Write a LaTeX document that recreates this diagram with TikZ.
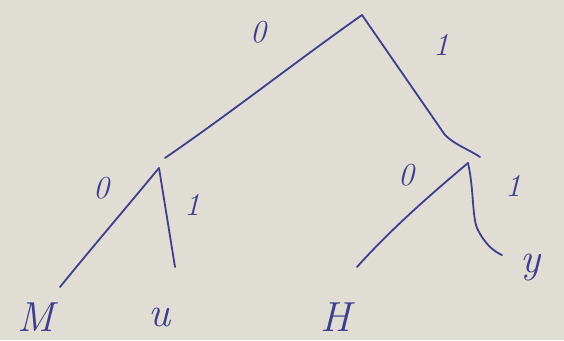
\documentclass[tikz,border=0pt]{standalone}
\usetikzlibrary{calc}
\definecolor{paper}{RGB}{224,221,212}
\definecolor{ink}{RGB}{62,62,140}
\begin{document}
\begin{tikzpicture}[x=1pt,y=-1pt,
  edge/.style={draw=ink,line width=1.8pt,line cap=round,line join=round},
  bit/.style={text=ink,font=\fontsize{32}{36}\selectfont\itshape,inner sep=0pt},
  leaf/.style={text=ink,font=\fontsize{42}{48}\selectfont\itshape,inner sep=0pt}]
\fill[paper] (0,0) rectangle (564,340);
\useasboundingbox (0,0) rectangle (564,340);
% internal points
\coordinate (root) at (362,15);
\coordinate (lt) at (165,158);
\coordinate (rbend) at (445,135);
\coordinate (rt) at (480,157);
\coordinate (ln) at (159,168);
\coordinate (rn) at (468,163);
\coordinate (le0) at (60,287);
\coordinate (le1) at (175,267);
\coordinate (re0) at (357,267);
\coordinate (re1a) at (477,228);
\coordinate (re1) at (502,255);
% edges
\draw[edge] (root) .. controls (298,60) and (232,112) .. (lt);
\draw[edge] (root) -- (rbend) .. controls (455,145) and (470,150) .. (rt);
\draw[edge] (ln) .. controls (120,215) and (90,250) .. (le0);
\draw[edge] (ln) -- (le1);
\draw[edge] (rn) .. controls (430,195) and (390,230) .. (re0);
\draw[edge] (rn) .. controls (474,190) and (472,215) .. (re1a) .. controls (485,245) and (495,252) .. (re1);
% bit labels
\node[bit] (b0) at (258,32) {0};
\node[bit] (b1) at (441,45) {1};
\node[bit] (b2) at (101,188) {0};
\node[bit] (b3) at (192,205) {1};
\node[bit] (b4) at (406,175) {0};
\node[bit] (b5) at (513,186) {1};
% leaves
\node[leaf] (m) at (36,317) {M};
\node[leaf] (u) at (160,317) {u};
\node[leaf] (h) at (336,317) {H};
\node[leaf] (y) at (530,268) {y};
\end{tikzpicture}
\end{document}
